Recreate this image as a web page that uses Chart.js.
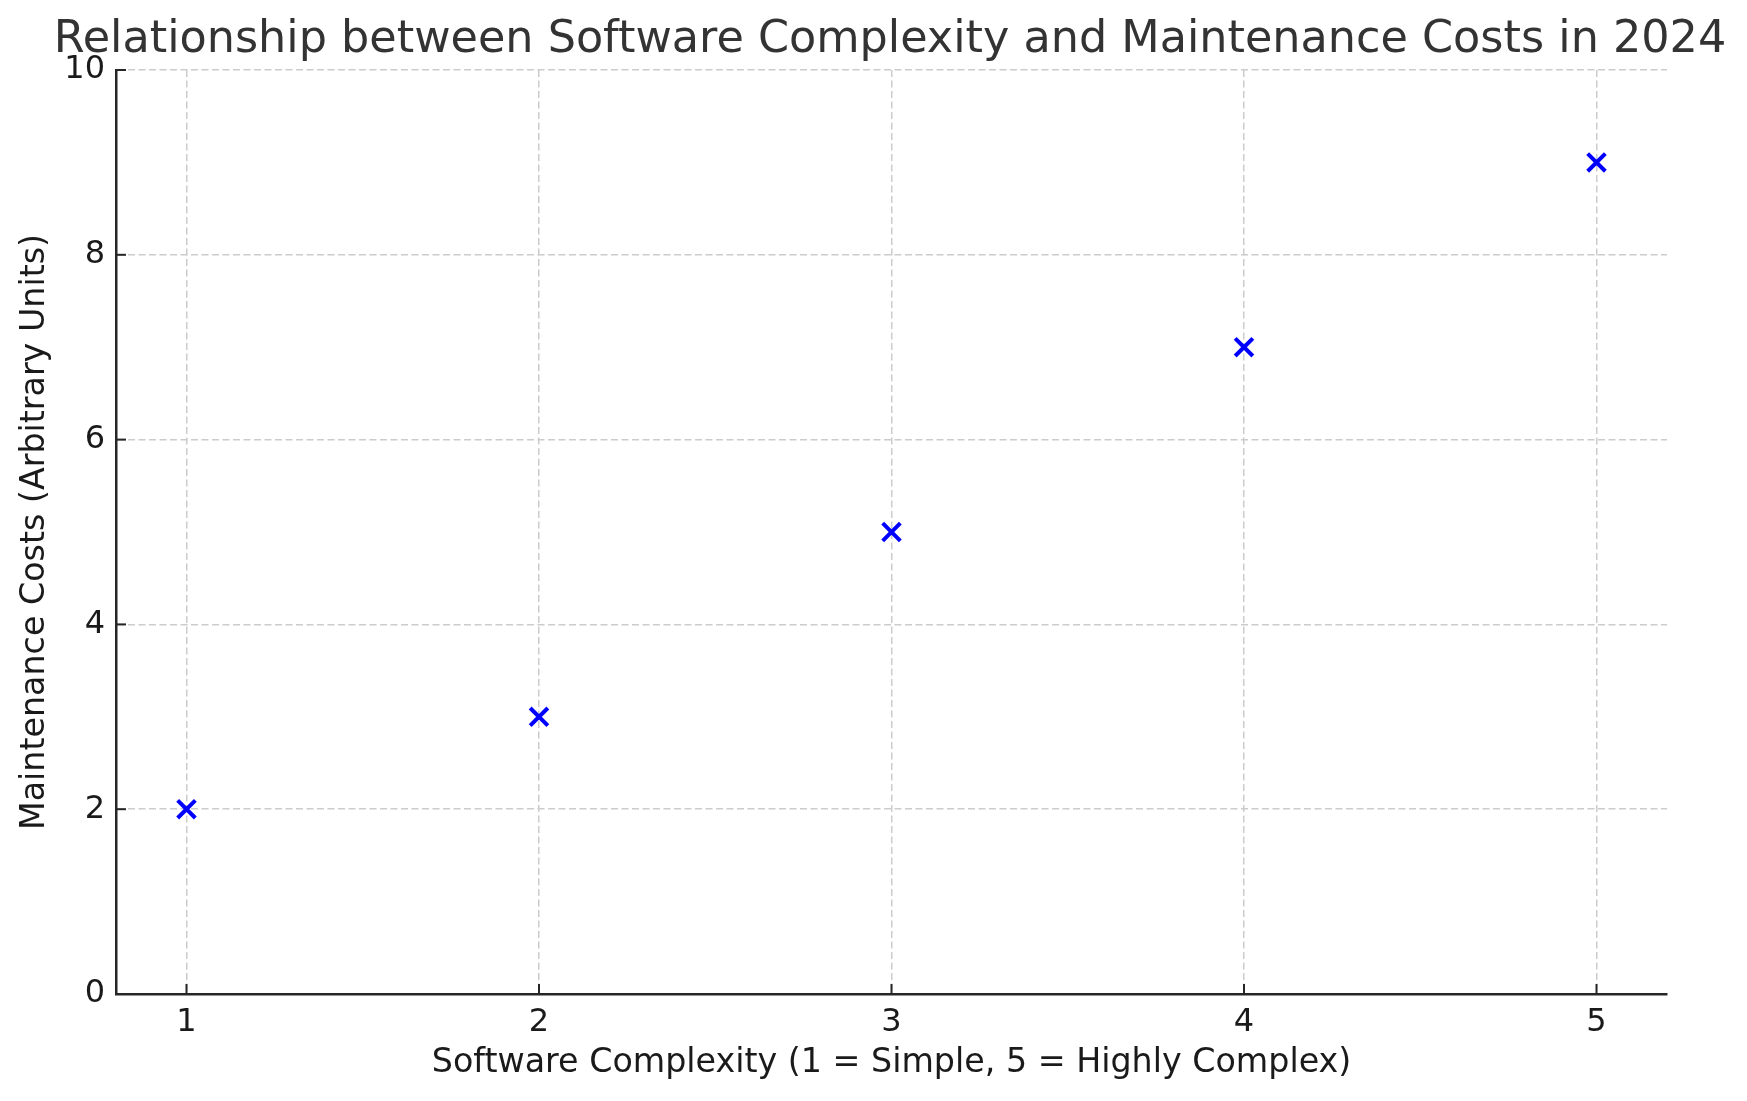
<!DOCTYPE html>
<html>
<head>
<meta charset="utf-8">
<script src="https://cdn.jsdelivr.net/npm/chart.js@4.4.1/dist/chart.umd.min.js"></script>
<style>
  html, body { margin: 0; padding: 0; background: #fff; }
  #wrap { width: 1747px; height: 1101px; }
</style>
</head>
<body>
<div id="wrap"><canvas id="chart" width="1747" height="1101"></canvas></div>
<script>
// data
const complexity = [1, 2, 3, 4, 5];
const maintenanceCost = [2, 3, 5, 7, 9];
const xTicks = [1, 2, 3, 4, 5];
const yTicks = [0, 2, 4, 6, 8, 10];

const FONT = "'DejaVu Sans', sans-serif";

// matplotlib style tick marks that point into the plot
const innerTicks = {
    id: 'innerTicks',
    afterDraw(chart) {
        const ctx = chart.ctx;
        const area = chart.chartArea;
        ctx.save();
        ctx.strokeStyle = '#262626';
        ctx.lineWidth = 2;
        for (const t of chart.scales.x.ticks) {
            const px = chart.scales.x.getPixelForValue(t.value);
            ctx.beginPath();
            ctx.moveTo(px, area.bottom);
            ctx.lineTo(px, area.bottom - 10);
            ctx.stroke();
        }
        for (const t of chart.scales.y.ticks) {
            const py = chart.scales.y.getPixelForValue(t.value);
            ctx.beginPath();
            ctx.moveTo(area.left, py);
            ctx.lineTo(area.left + 10, py);
            ctx.stroke();
        }
        ctx.restore();
    }
};

new Chart(document.getElementById('chart').getContext('2d'), {
    type: 'scatter',
    data: {
        datasets: [{
            label: 'Maintenance Costs',
            data: complexity.map((c, i) => ({x: c, y: maintenanceCost[i]})),
            pointStyle: 'crossRot',
            pointRadius: 12.5,
            pointHoverRadius: 12.5,
            borderWidth: 4,
            borderColor: '#0000ff',
            backgroundColor: '#0000ff'
        }]
    },
    options: {
        responsive: false,
        animation: false,
        devicePixelRatio: 1,
        layout: {padding: {left: 33, right: 0, top: 0, bottom: 0}},
        plugins: {
            legend: {display: false},
            tooltip: {enabled: false},
            title: {
                display: true,
                text: 'Relationship between Software Complexity and Maintenance Costs in 2024',
                color: '#333333',
                font: {family: FONT, size: 44.5, weight: 'normal'},
                padding: {top: 14, bottom: 2.6}
            }
        },
        scales: {
            x: {
                type: 'linear',
                min: 0.8,
                max: 5.2,
                afterBuildTicks: s => { s.ticks = xTicks.map(v => ({value: v})); },
                afterFit: s => { s.height = 107; },
                grid: {
                    drawTicks: false,
                    color: '#cccccc',
                    lineWidth: 1.5
                },
                border: {display: true, color: '#262626', width: 2.5, dash: [7, 3.5]},
                ticks: {
                    color: '#1a1a1a',
                    font: {family: FONT, size: 32},
                    padding: 9
                },
                title: {
                    display: true,
                    text: 'Software Complexity (1 = Simple, 5 = Highly Complex)',
                    color: '#1a1a1a',
                    font: {family: FONT, size: 33.3},
                    padding: {top: 0, bottom: 18}
                }
            },
            y: {
                type: 'linear',
                min: 0,
                max: 10,
                afterBuildTicks: s => { s.ticks = yTicks.map(v => ({value: v})); },
                afterFit: s => { s.width = 83; },
                grid: {
                    drawTicks: false,
                    color: '#cccccc',
                    lineWidth: 1.5
                },
                border: {display: true, color: '#262626', width: 2.5, dash: [7, 3.5]},
                ticks: {
                    color: '#1a1a1a',
                    font: {family: FONT, size: 32},
                    padding: 11
                },
                title: {
                    display: true,
                    text: 'Maintenance Costs (Arbitrary Units)',
                    color: '#1a1a1a',
                    font: {family: FONT, size: 33.3},
                    padding: {top: -18, bottom: 0}
                }
            },
            // empty space on the right, as in the original figure
            gap: {
                type: 'linear',
                position: 'right',
                min: 0,
                max: 10,
                afterFit: s => { s.width = 80; },
                grid: {display: false},
                border: {display: false},
                ticks: {display: false},
                title: {display: false}
            }
        }
    },
    plugins: [innerTicks]
});
</script>
</body>
</html>
